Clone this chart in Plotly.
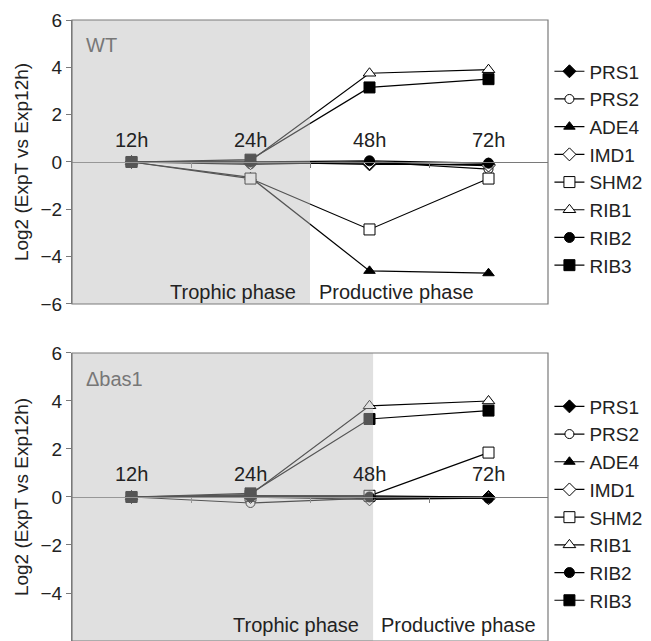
import plotly.graph_objects as go

times = ["12h", "24h", "48h", "72h"]
genes = ["PRS1", "PRS2", "ADE4", "IMD1", "SHM2", "RIB1", "RIB2", "RIB3"]

# WT panel values (log2 ExpT vs Exp12h)
wt_PRS1 = [0, 0.0, -0.1, -0.1]
wt_PRS2 = [0, -0.1, 0.0, -0.3]
wt_ADE4 = [0, -0.65, -4.6, -4.7]
wt_IMD1 = [0, -0.05, -0.05, -0.15]
wt_SHM2 = [0, -0.7, -2.85, -0.7]
wt_RIB1 = [0, 0.05, 3.75, 3.9]
wt_RIB2 = [0, 0.0, 0.05, -0.05]
wt_RIB3 = [0, 0.1, 3.15, 3.5]

# delta bas1 panel values
bas_PRS1 = [0, 0.05, 0.0, 0.0]
bas_PRS2 = [0, -0.25, -0.05, -0.05]
bas_ADE4 = [0, 0.05, 0.05, 0.0]
bas_IMD1 = [0, 0.0, -0.1, -0.05]
bas_SHM2 = [0, 0.05, 0.05, 1.85]
bas_RIB1 = [0, 0.1, 3.8, 4.0]
bas_RIB2 = [0, 0.0, 0.0, -0.05]
bas_RIB3 = [0, 0.15, 3.25, 3.6]

wt_vals = [wt_PRS1, wt_PRS2, wt_ADE4, wt_IMD1, wt_SHM2, wt_RIB1, wt_RIB2, wt_RIB3]
bas_vals = [bas_PRS1, bas_PRS2, bas_ADE4, bas_IMD1, bas_SHM2, bas_RIB1, bas_RIB2, bas_RIB3]

symbols = ["diamond", "circle-open", "triangle-up", "diamond-open",
           "square-open", "triangle-up-open", "circle", "square"]
sizes = [10, 9, 10, 10, 11, 11, 10, 11]

xidx = list(range(len(times)))
FONT = "Arial, Liberation Sans, sans-serif"
FS = 20
TXT = "#222"

fig = go.Figure()

def add_panel(vals, xa, ya, legend):
    for g, v, s, sz in zip(genes, vals, symbols, sizes):
        opened = s.endswith("-open")
        fig.add_trace(go.Scatter(
            x=xidx, y=v, name=g, mode="lines+markers",
            xaxis=xa, yaxis=ya, legend=legend,
            line=dict(color="black", width=1.2),
            marker=dict(symbol=s.replace("-open", ""), size=sz,
                        color="white" if opened else "black",
                        line=dict(color="black", width=1)),
        ))

add_panel(wt_vals, "x", "y", "legend")
add_panel(bas_vals, "x2", "y2", "legend2")

top_dom = [0.5427, 1.0]
bot_dom = [0.0, 0.4638]
gray = "#7a7a7a"

def yax(dom):
    return dict(domain=dom, range=[-6, 6], tickvals=[-6, -4, -2, 0, 2, 4, 6],
                ticks="outside", ticklen=5, tickcolor=gray, showline=True,
                linecolor=gray, showgrid=False, zeroline=False, automargin=False,
                tickfont=dict(size=19, color=TXT, family=FONT),
                title=dict(text="Log2 (ExpT vs Exp12h)", standoff=6,
                           font=dict(size=19, color=TXT, family=FONT)))

def xax(pos):
    return dict(domain=[0, 1], range=[-0.5, 3.5], tickvals=[0.5, 1.5, 2.5],
                ticks="outside", ticklen=5, tickcolor=gray, showticklabels=False,
                showline=True, linecolor=gray, showgrid=False, zeroline=False,
                anchor="free", position=pos, automargin=False)

leg = dict(x=1.003, xanchor="left", yanchor="middle",
           font=dict(size=19, family=FONT, color=TXT),
           bgcolor="rgba(0,0,0,0)", tracegroupgap=0, itemwidth=30)

fig.update_layout(
    width=651, height=641,
    margin=dict(l=64, r=111, t=12, b=8, autoexpand=False),
    plot_bgcolor="white", paper_bgcolor="white",
    font=dict(family=FONT, size=FS, color=TXT),
    xaxis=xax((top_dom[0] + top_dom[1]) / 2),
    yaxis=yax(top_dom),
    xaxis2=xax((bot_dom[0] + bot_dom[1]) / 2),
    yaxis2=yax(bot_dom),
    legend=dict(leg, y=0.761),
    legend2=dict(leg, y=0.2214),
    showlegend=True,
)

shade = "rgba(187,187,187,0.455)"
for xr, yr, x1 in [("x", "y", 1.5), ("x2", "y2", 2.03)]:
    fig.add_shape(type="rect", xref=xr, yref=yr, x0=-0.5, x1=x1, y0=-6, y1=6,
                  fillcolor=shade, line=dict(width=0), layer="above")
    fig.add_shape(type="rect", xref=xr + " domain", yref=yr + " domain",
                  x0=0, x1=1, y0=0, y1=1, line=dict(color=gray, width=1.2),
                  layer="above")

for xr, yr in [("x", "y"), ("x2", "y2")]:
    for i, t in enumerate(times):
        fig.add_annotation(x=i, y=0.95, xref=xr, yref=yr, text=t, showarrow=False,
                           yanchor="middle", font=dict(size=FS, color=TXT))

fig.add_annotation(x=-0.4, y=4.95, xref="x", yref="y", text="WT", showarrow=False,
                   xanchor="left", font=dict(size=FS, color="#777"))
fig.add_annotation(x=-0.4, y=4.9, xref="x2", yref="y2", text="\u0394bas1", showarrow=False,
                   xanchor="left", font=dict(size=FS, color="#777"))

fig.add_annotation(x=0.85, y=-5.5, xref="x", yref="y", text="Trophic phase",
                   showarrow=False, font=dict(size=FS, color=TXT))
fig.add_annotation(x=2.23, y=-5.5, xref="x", yref="y", text="Productive phase",
                   showarrow=False, font=dict(size=FS, color=TXT))
fig.add_annotation(x=1.38, y=-5.35, xref="x2", yref="y2", text="Trophic phase",
                   showarrow=False, font=dict(size=FS, color=TXT))
fig.add_annotation(x=2.75, y=-5.35, xref="x2", yref="y2", text="Productive phase",
                   showarrow=False, font=dict(size=FS, color=TXT))

fig.write_html("out.html")
